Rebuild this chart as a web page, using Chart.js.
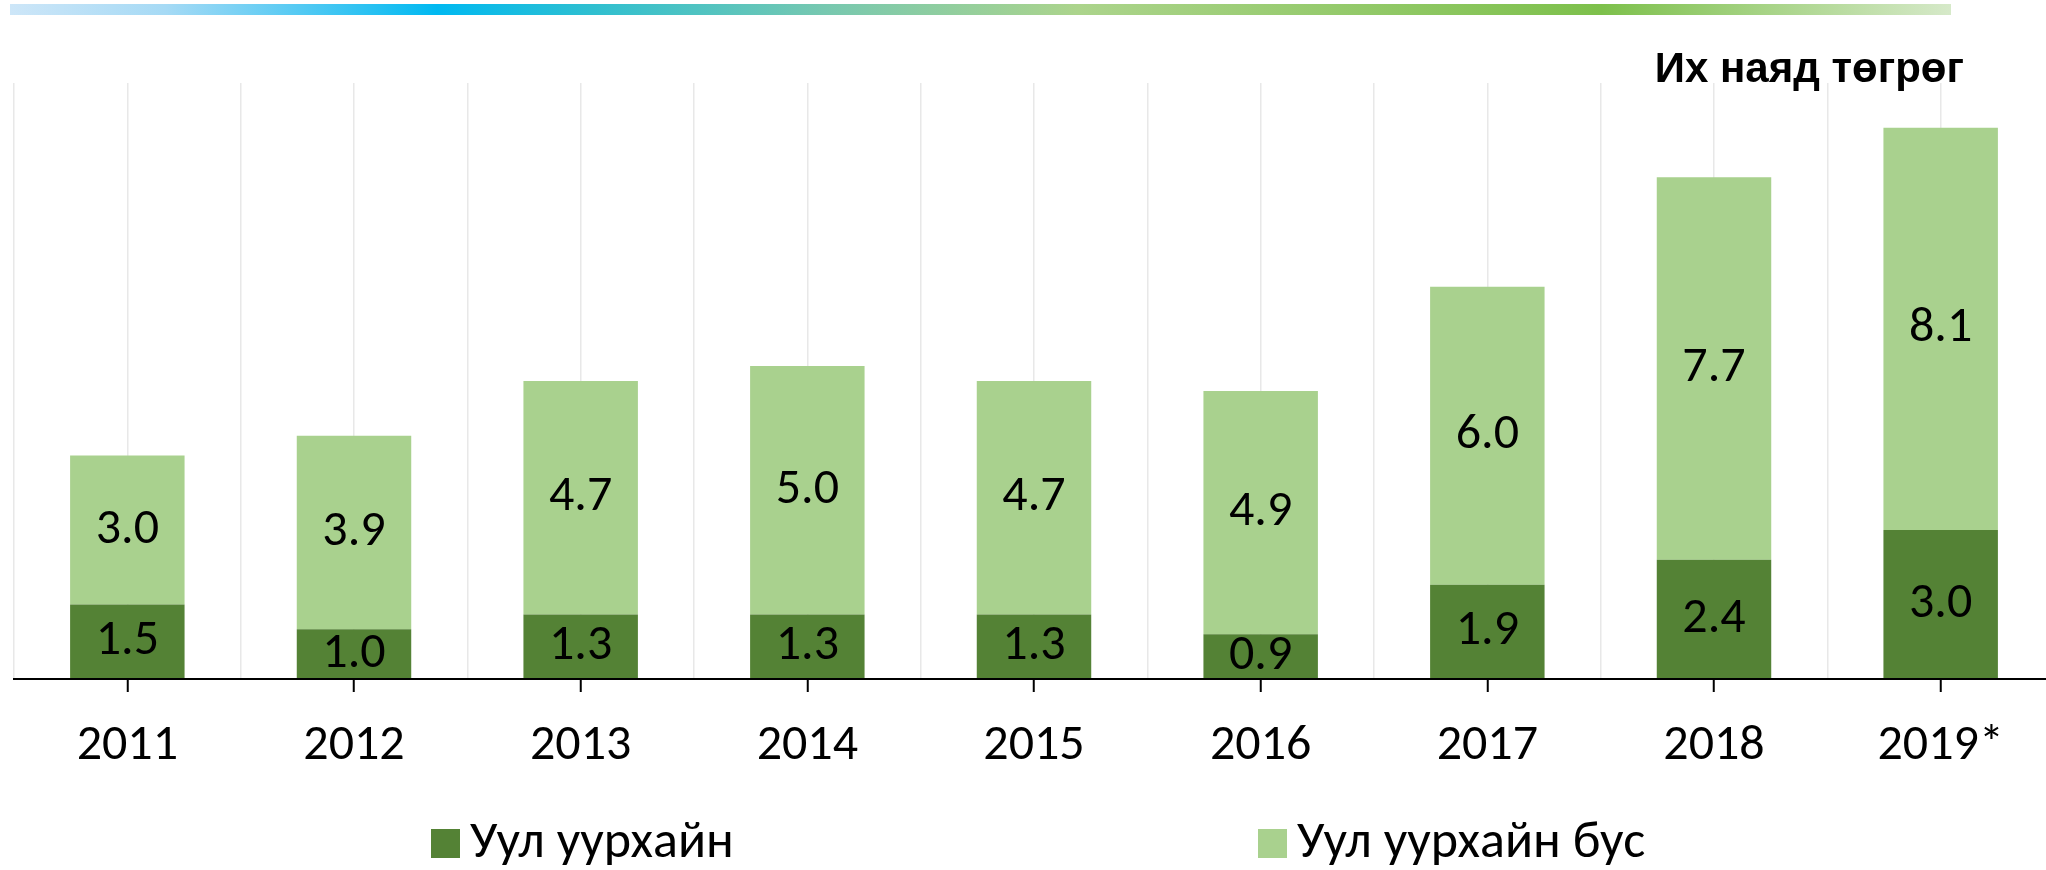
<!DOCTYPE html>
<html>
<head>
<meta charset="utf-8">
<script src="https://cdn.jsdelivr.net/npm/chart.js@4.4.1/dist/chart.umd.min.js"></script>
<style>
    html, body { margin: 0; padding: 0; background: #ffffff; overflow: hidden; }
    /* plot area runs a little past the right edge in the original, so the box is wider than the window */
    #wrap { position: relative; width: 2060px; height: 870px; }
</style>
</head>
<body>
<div id="wrap"><canvas id="budgetChart"></canvas></div>
<script>
// data
const years = ['2011', '2012', '2013', '2014', '2015', '2016', '2017', '2018', '2019*'];
const miningValues = [1.5, 1.0, 1.3, 1.3, 1.3, 0.9, 1.9, 2.4, 3.0];
const nonMiningValues = [3.0, 3.9, 4.7, 5.0, 4.7, 4.9, 6.0, 7.7, 8.1];
const seriesNames = ['Уул уурхайн', 'Уул уурхайн бус'];
const unitLabel = 'Их наяд төгрөг';

const textFont = 'Carlito, Calibri, Lato, "Noto Sans", sans-serif';
const darkGreen = '#548235';
const lightGreen = '#a9d18e';
const gridColor = '#e8e8e8';

// coloured strip across the top
const topStrip = {
    id: 'topStrip',
    beforeDraw(chart) {
        const ctx = chart.ctx;
        const x0 = 10, x1 = 1951;
        const g = ctx.createLinearGradient(x0, 0, x1, 0);
        g.addColorStop(0, '#cde6f8');
        g.addColorStop(0.08, '#a6daf5');
        g.addColorStop(0.22, '#00b9f1');
        g.addColorStop(0.3, '#2fbfd0');
        g.addColorStop(0.42, '#77c8b0');
        g.addColorStop(0.55, '#acd48c');
        g.addColorStop(0.82, '#7dc04b');
        g.addColorStop(1, '#d6e9c9');
        ctx.save();
        ctx.fillStyle = g;
        ctx.fillRect(x0, 4, x1 - x0, 11);
        ctx.restore();
    }
};

// unit text at top right
const unitTitle = {
    id: 'unitTitle',
    afterDraw(chart) {
        const ctx = chart.ctx;
        ctx.save();
        ctx.font = 'bold 42px "Liberation Sans", Arial, sans-serif';
        ctx.fillStyle = '#000';
        ctx.textAlign = 'right';
        ctx.textBaseline = 'alphabetic';
        ctx.fillText(unitLabel, 1964, 82);
        ctx.restore();
    }
};

// value labels in the middle of each segment
const segmentLabels = {
    id: 'segmentLabels',
    afterDatasetsDraw(chart) {
        const ctx = chart.ctx;
        ctx.save();
        ctx.font = '50px ' + textFont;
        ctx.fillStyle = '#000';
        ctx.textAlign = 'center';
        ctx.textBaseline = 'middle';
        chart.data.datasets.forEach((ds, i) => {
            chart.getDatasetMeta(i).data.forEach((bar, j) => {
                ctx.fillText(ds.data[j].toFixed(1), bar.x, (bar.y + bar.base) / 2);
            });
        });
        ctx.restore();
    }
};

// legend drawn by hand, the gap between items is too wide for the built-in one
const wideLegend = {
    id: 'wideLegend',
    afterDraw(chart, args, opts) {
        const ctx = chart.ctx;
        ctx.save();
        ctx.font = '52px ' + textFont;
        ctx.textBaseline = 'middle';
        ctx.textAlign = 'left';
        chart.data.datasets.forEach((ds, i) => {
            const x = opts.xs[i];
            ctx.fillStyle = ds.backgroundColor;
            ctx.fillRect(x, opts.y - 14, 29, 29);
            ctx.fillStyle = '#000';
            ctx.fillText(ds.label, x + 39, opts.y + 1);
        });
        ctx.restore();
    }
};

new Chart(document.getElementById('budgetChart'), {
    type: 'bar',
    data: {
        labels: years,
        datasets: [{
            label: seriesNames[0],
            data: miningValues,
            backgroundColor: darkGreen,
            barPercentage: 0.505,
            categoryPercentage: 1.0
        }, {
            label: seriesNames[1],
            data: nonMiningValues,
            backgroundColor: lightGreen,
            barPercentage: 0.505,
            categoryPercentage: 1.0
        }]
    },
    options: {
        responsive: true,
        maintainAspectRatio: false,
        animation: false,
        layout: {
            padding: { left: 14, right: 6, top: 83, bottom: 70 }
        },
        scales: {
            x: {
                stacked: true,
                offset: true,
                grid: {
                    offset: false,
                    color: gridColor,
                    lineWidth: 1.5,
                    tickColor: '#000',
                    tickLength: 13,
                    tickWidth: 2
                },
                border: { color: '#000', width: 2, z: 1 },
                ticks: {
                    color: '#000',
                    font: { family: textFont, size: 50 },
                    padding: 24
                }
            },
            // boundary lines between the categories
            xGrid: {
                type: 'linear',
                position: 'top',
                offset: false,
                min: 0,
                max: years.length,
                ticks: { display: false, stepSize: 1 },
                grid: { drawTicks: false, offset: false, color: gridColor, lineWidth: 1.5 },
                border: { display: false }
            },
            y: {
                stacked: true,
                display: false,
                min: 0,
                max: 12
            }
        },
        plugins: {
            legend: { display: false },
            tooltip: { enabled: false },
            wideLegend: { xs: [431, 1258], y: 843 }
        }
    },
    plugins: [topStrip, unitTitle, segmentLabels, wideLegend]
});
</script>
</body>
</html>
